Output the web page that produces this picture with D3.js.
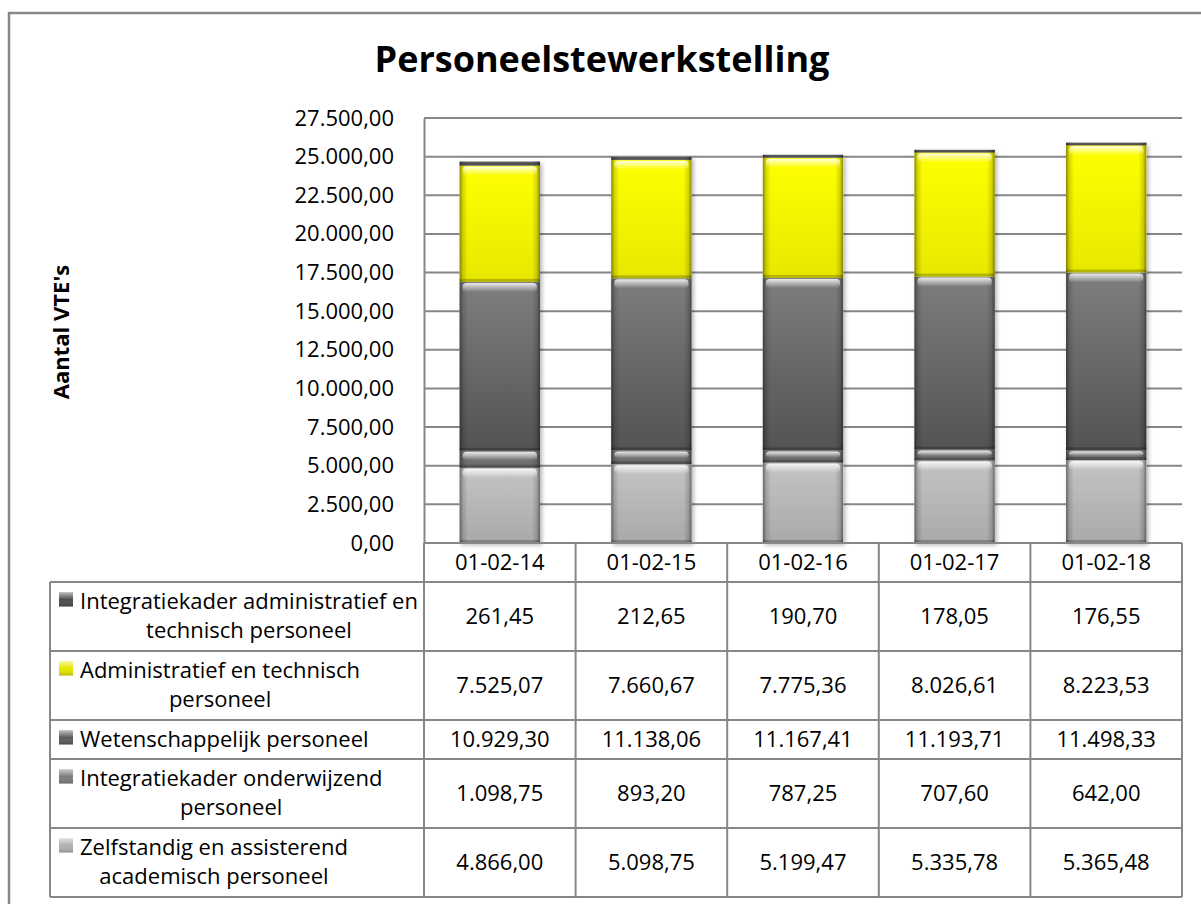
<!DOCTYPE html>
<meta charset="utf-8">
<style>
body { margin: 0; background: #fff; }
svg text { font-family: "Open Sans", sans-serif; fill: #000; }
</style>
<svg width="1201" height="904"></svg>
<script src="https://d3js.org/d3.v7.min.js"></script>
<script>

var categories = ["01-02-14", "01-02-15", "01-02-16", "01-02-17", "01-02-18"];

// series, in the order of the table rows (top of the stack first)
var integratieAtp = [261.45, 212.65, 190.70, 178.05, 176.55];
var atp = [7525.07, 7660.67, 7775.36, 8026.61, 8223.53];
var wp = [10929.30, 11138.06, 11167.41, 11193.71, 11498.33];
var integratieOp = [1098.75, 893.20, 787.25, 707.60, 642.00];
var zap = [4866.00, 5098.75, 5199.47, 5335.78, 5365.48];

var seriesLabels = [
  ["Integratiekader administratief en", "technisch personeel"],
  ["Administratief en technisch", "personeel"],
  ["Wetenschappelijk personeel"],
  ["Integratiekader onderwijzend", "personeel"],
  ["Zelfstandig en assisterend", "academisch personeel"]
];
var seriesValues = [integratieAtp, atp, wp, integratieOp, zap];
var yTicks = [0, 2500, 5000, 7500, 10000, 12500, 15000, 17500, 20000, 22500, 25000, 27500];

// top colour, bottom colour, legend key colour
var colors = [
  ["#5e5e5e", "#4a4a4a", "#4d4d4d"],
  ["#ffff00", "#e8e800", "#e6e600"],
  ["#7e7e7e", "#535353", "#5c5c5c"],
  ["#7a7a7a", "#6a6a6a", "#7d7d7d"],
  ["#c4c4c4", "#a9a9a9", "#b0b0b0"]
];

var nl = d3.formatLocale({decimal: ",", thousands: ".", grouping: [3], currency: ["€", ""]});
var fmt = nl.format(",.2f");

var svg = d3.select("svg"),
    width = +svg.attr("width"),
    height = +svg.attr("height");

var plot = {left: 424, right: 1182, top: 118, bottom: 543};
var tableLeft = 50, lineColor = "#878787", fs = "22px";

var defs = svg.append("defs");
colors.forEach(function(c, i) {
  var g = defs.append("linearGradient").attr("id", "fill" + i)
      .attr("x1", 0).attr("y1", 0).attr("x2", 0).attr("y2", 1);
  g.append("stop").attr("offset", "0%").attr("stop-color", c[0]);
  g.append("stop").attr("offset", "100%").attr("stop-color", c[1]);
});
var edge = defs.append("linearGradient").attr("id", "edge");
[[0, .45], [.04, .15], [.1, 0], [.9, 0], [.96, .15], [1, .45]].forEach(function(s) {
  edge.append("stop").attr("offset", s[0]).attr("stop-color", "#000").attr("stop-opacity", s[1]);
});
var hi = defs.append("linearGradient").attr("id", "hi")
    .attr("x1", 0).attr("y1", 0).attr("x2", 0).attr("y2", 1);
hi.append("stop").attr("offset", 0).attr("stop-color", "#fff").attr("stop-opacity", .85);
hi.append("stop").attr("offset", 1).attr("stop-color", "#fff").attr("stop-opacity", 0);
var keyHi = defs.append("linearGradient").attr("id", "keyhi")
    .attr("x1", 0).attr("y1", 0).attr("x2", 0).attr("y2", 1);
keyHi.append("stop").attr("offset", 0).attr("stop-color", "#fff").attr("stop-opacity", .6);
keyHi.append("stop").attr("offset", .5).attr("stop-color", "#fff").attr("stop-opacity", 0);
keyHi.append("stop").attr("offset", 1).attr("stop-color", "#000").attr("stop-opacity", .2);
defs.append("filter").attr("id", "shadow").attr("x", -0.2).attr("y", -0.1).attr("width", 1.4).attr("height", 1.2)
  .append("feDropShadow").attr("dx", 2).attr("dy", 2).attr("stdDeviation", 2)
  .attr("flood-color", "#000").attr("flood-opacity", .3);

// outer chart border (right and bottom edge fall outside the picture)
svg.append("rect")
    .attr("x", 9).attr("y", 13).attr("width", 1230).attr("height", 940)
    .attr("fill", "none").attr("stroke", "#878787").attr("stroke-width", 2.5);

svg.append("text")
    .attr("x", 602).attr("y", 72)
    .attr("text-anchor", "middle")
    .style("font-size", "36px").style("font-weight", "bold")
    .text("Personeelstewerkstelling");

svg.append("text")
    .attr("transform", "translate(69,332) rotate(-90)")
    .attr("text-anchor", "middle")
    .style("font-size", "22px").style("font-weight", "bold")
    .text("Aantal VTE's");

var x = d3.scaleBand().domain(categories).range([plot.left, plot.right]);
var y = d3.scaleLinear().domain([0, 27500]).range([plot.bottom, plot.top]);

// gridlines
svg.append("g").selectAll("line").data(yTicks).enter().append("line")
    .attr("x1", plot.left).attr("x2", plot.right)
    .attr("y1", function(d) { return y(d); }).attr("y2", function(d) { return y(d); })
    .attr("stroke", lineColor).attr("stroke-width", 2);

var yAxis = svg.append("g")
    .attr("transform", "translate(" + plot.left + ",0)")
    .call(d3.axisLeft(y).tickValues(yTicks).tickFormat(fmt).tickSize(0).tickPadding(30));
yAxis.select(".domain").attr("stroke", lineColor).attr("stroke-width", 2);
yAxis.selectAll("text").style("font-size", fs).attr("font-family", null);

// stacked bars, bottom series first
var stackOrder = [4, 3, 2, 1, 0];
var rows = categories.map(function(c, j) {
  var r = {cat: c};
  stackOrder.forEach(function(i) { r["s" + i] = seriesValues[i][j]; });
  return r;
});
var stack = d3.stack().keys(stackOrder.map(function(i) { return "s" + i; }));
var layers = stack(rows);
var topLayer = layers[layers.length - 1];

var inset = x.bandwidth() * 0.235;
var bw = x.bandwidth() - 2 * inset;

var bars = svg.append("g");
bars.selectAll("rect.shadow").data(topLayer).enter().append("rect")
    .attr("x", function(d) { return x(d.data.cat) + inset; })
    .attr("width", bw)
    .attr("y", function(d) { return y(d[1]); })
    .attr("height", function(d) { return plot.bottom - y(d[1]); })
    .attr("fill", "#fff").attr("filter", "url(#shadow)");

layers.forEach(function(layer, k) {
  var si = stackOrder[k];
  var g = bars.append("g");
  var seg = g.selectAll("g").data(layer).enter().append("g");
  seg.append("rect")
      .attr("x", function(d) { return x(d.data.cat) + inset; })
      .attr("y", function(d) { return y(d[1]); })
      .attr("width", bw)
      .attr("height", function(d) { return y(d[0]) - y(d[1]); })
      .attr("fill", "url(#fill" + si + ")");
  seg.append("rect")
      .attr("x", function(d) { return x(d.data.cat) + inset; })
      .attr("y", function(d) { return y(d[1]); })
      .attr("width", bw)
      .attr("height", function(d) { return y(d[0]) - y(d[1]); })
      .attr("fill", "url(#edge)");
  seg.filter(function(d) { return y(d[0]) - y(d[1]) > 6; }).append("rect")
      .attr("x", function(d) { return x(d.data.cat) + inset + 3; })
      .attr("y", function(d) { return y(d[1]) + 1; })
      .attr("width", bw - 6)
      .attr("height", function(d) { return Math.min(9, (y(d[0]) - y(d[1])) / 2); })
      .attr("rx", 4)
      .attr("fill", "url(#hi)");
  seg.filter(function(d) { return y(d[0]) - y(d[1]) > 6; }).append("rect")
      .attr("x", function(d) { return x(d.data.cat) + inset; })
      .attr("y", function(d) { return y(d[0]) - 3; })
      .attr("width", bw)
      .attr("height", 3)
      .attr("fill", "#000").attr("fill-opacity", .22);
});

// data table
var headerH = 39;
var rowH = seriesLabels.map(function(l) { return 9 + 30 * l.length; });
var rowTop = [plot.bottom + headerH];
rowH.forEach(function(h, i) { rowTop.push(rowTop[i] + h); });
var tableBottom = rowTop[rowTop.length - 1];

var table = svg.append("g");
table.append("line")
    .attr("x1", plot.left).attr("x2", plot.right)
    .attr("y1", plot.bottom).attr("y2", plot.bottom)
    .attr("stroke", lineColor).attr("stroke-width", 2);
table.selectAll("line.h").data(rowTop).enter().append("line")
    .attr("x1", tableLeft).attr("x2", plot.right)
    .attr("y1", function(d) { return d; }).attr("y2", function(d) { return d; })
    .attr("stroke", lineColor).attr("stroke-width", 2);
var colEdges = categories.map(function(c) { return x(c); }).concat([plot.right]);
table.selectAll("line.v").data(colEdges).enter().append("line")
    .attr("x1", function(d) { return d; }).attr("x2", function(d) { return d; })
    .attr("y1", plot.bottom).attr("y2", tableBottom)
    .attr("stroke", lineColor).attr("stroke-width", 2);
table.append("line")
    .attr("x1", tableLeft).attr("x2", tableLeft)
    .attr("y1", rowTop[0]).attr("y2", tableBottom)
    .attr("stroke", lineColor).attr("stroke-width", 2);

// header cells
table.selectAll("text.cat").data(categories).enter().append("text")
    .attr("x", function(d) { return x(d) + x.bandwidth() / 2; })
    .attr("y", plot.bottom + headerH / 2)
    .attr("dy", "0.36em")
    .attr("text-anchor", "middle")
    .style("font-size", fs)
    .text(function(d) { return d; });

// row labels and values
seriesLabels.forEach(function(lines, i) {
  var top = rowTop[i], h = rowH[i];
  var mid = top + h / 2;
  var firstY = mid - (lines.length - 1) * 15;
  var lg = table.append("g");
  var txt = lg.selectAll("text").data(lines).enter().append("text")
      .attr("y", function(d, k) { return firstY + k * 29; })
      .attr("dy", "0.36em")
      .attr("text-anchor", "middle")
      .style("font-size", fs)
      .text(function(d) { return d; });
  var maxW = d3.max(txt.nodes(), function(n) { return n.getComputedTextLength(); });
  txt.attr("x", 80 + maxW / 2);
  lg.append("rect")
      .attr("x", 59).attr("y", firstY - 9).attr("width", 14).attr("height", 14)
      .attr("fill", colors[i][2]);
  lg.append("rect")
      .attr("x", 59).attr("y", firstY - 9).attr("width", 14).attr("height", 14)
      .attr("fill", "url(#keyhi)");

  table.selectAll("text.v" + i).data(seriesValues[i]).enter().append("text")
      .attr("x", function(d, j) { return x(categories[j]) + x.bandwidth() / 2; })
      .attr("y", mid)
      .attr("dy", "0.36em")
      .attr("text-anchor", "middle")
      .style("font-size", fs)
      .text(function(d) { return fmt(d); });
});

</script>
